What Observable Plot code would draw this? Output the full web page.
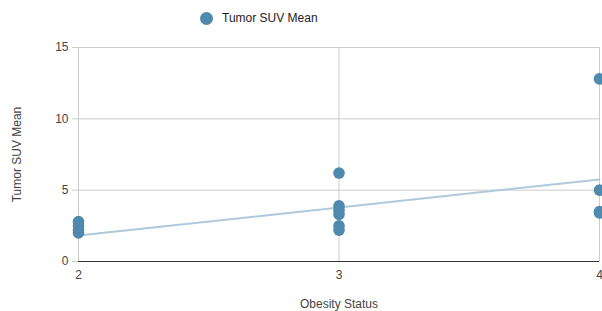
<!DOCTYPE html>
<html>
<head>
<meta charset="utf-8">
<script src="https://cdn.jsdelivr.net/npm/d3@7"></script>
<script src="https://cdn.jsdelivr.net/npm/@observablehq/plot@0.6"></script>
<style>
  html, body { margin: 0; padding: 0; background: #fff; width: 602px; height: 311px; overflow: hidden; }
  body { font-family: "Liberation Sans", Arial, sans-serif; }
  #legend { height: 36px; position: relative; }
  #legend .sw { position: absolute; left: 200px; top: 12px; width: 13px; height: 13px; border-radius: 50%; background: #4f89ad; }
  #legend .lb { position: absolute; left: 222px; top: 11px; font-size: 12px; color: #222; }
  svg { display: block; }
</style>
</head>
<body>
<div id="legend"><div class="sw"></div><div class="lb">Tumor SUV Mean</div></div>
<div id="chart"></div>
<script>
const obesity = [2, 2, 2, 2, 3, 3, 3, 3, 3, 3, 4, 4, 4, 4];
const suvMean = [2.8, 2.5, 2.2, 2.0, 6.2, 3.9, 3.6, 3.3, 2.5, 2.2, 12.8, 5.0, 3.5, 3.4];
const trendX = [2, 4];
const trendY = [1.82, 5.75];
const yTicks = [0, 5, 10, 15];
const xTicks = [2, 3, 4];

const points = obesity.map((x, i) => ({x, y: suvMean[i]}));
const trend = trendX.map((x, i) => ({x, y: trendY[i]}));

const chart = Plot.plot({
  width: 602,
  height: 275,
  marginLeft: 78,
  marginRight: 3,
  marginTop: 11,
  marginBottom: 50,
  style: {fontFamily: "'Liberation Sans', Arial, sans-serif", fontSize: "12px", color: "#444", background: "#fff"},
  x: {domain: [2, 4]},
  y: {domain: [0, 15]},
  marks: [
    Plot.ruleY(yTicks.filter(d => d > 0), {y: d => d, stroke: "#cccccc", strokeOpacity: 1, x1: 2, x2: 4}),
    Plot.ruleX(xTicks, {x: d => d, stroke: "#cccccc", strokeOpacity: 1}),
    Plot.axisY({ticks: yTicks, tickFormat: "d", tickSize: 6, tickPadding: 4, stroke: "#cccccc", label: "Tumor SUV Mean", labelAnchor: "center", labelOffset: 66, labelArrow: "none", fill: "#444"}),
    Plot.axisX({ticks: xTicks, tickFormat: "d", tickSize: 0, tickPadding: 9, label: null, fill: "#444"}),
    Plot.axisX({ticks: [], tickSize: 0, label: "Obesity Status", labelAnchor: "center", labelOffset: 46, labelArrow: "none", fill: "#444", dx: -13}),
    Plot.ruleY([0], {stroke: "#333", strokeWidth: 1}),
    Plot.line(trend, {x: "x", y: "y", stroke: "#afcadb", strokeWidth: 2}),
    Plot.dot(points, {x: "x", y: "y", r: 5.8, fill: "#4f89ad", stroke: "none"})
  ]
});
document.getElementById("chart").appendChild(chart);
</script>
</body>
</html>
